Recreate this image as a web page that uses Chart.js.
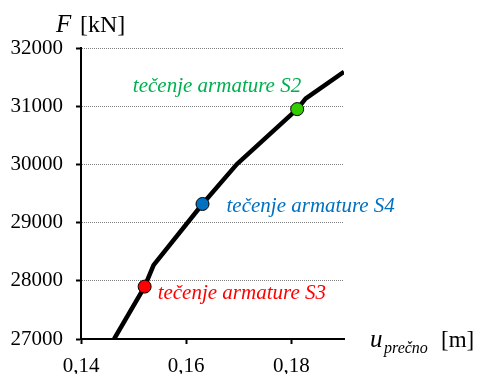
<!DOCTYPE html>
<html>
<head>
<meta charset="utf-8">
<script src="https://cdn.jsdelivr.net/npm/chart.js@4/dist/chart.umd.min.js"></script>
<style>
  html, body { margin: 0; padding: 0; background: #fff; }
  #wrap { position: relative; width: 478px; height: 374px; }
</style>
</head>
<body>
<div id="wrap"><canvas id="grafik"></canvas></div>
<script>
// krivulja F - u_prečno
const uKrivulja = [0.1463, 0.1521, 0.1538, 0.1631, 0.1696, 0.1811, 0.1827, 0.1900];
const fKrivulja = [27000, 27900, 28270, 29320, 30000, 30950, 31130, 31590];

// točke tečenja armature
const tockeNazivi = ['tečenje armature S3', 'tečenje armature S4', 'tečenje armature S2'];
const tockeU = [0.1521, 0.1631, 0.1811];
const tockeF = [27900, 29320, 30950];
const tockeBoje = ['#ff0000', '#0070c0', '#33cc00'];
const tekstBoje = ['#ff0000', '#0070c0', '#00b050'];
// odmik teksta od točke [dx, dy, poravnanje]
const tekstOdmik = [[13, 12, 'left'], [24, 8, 'left'], [4, -17, 'right']];

const xOznake = [0.14, 0.16, 0.18];
const yMin = 27000, yMax = 32000, yKorak = 1000;

const serif = '"Liberation Serif", "Times New Roman", serif';

const naslovi = {
    id: 'naslovi',
    afterDraw(chart) {
        const ctx = chart.ctx;
        const xs = chart.scales.x, ys = chart.scales.y;
        ctx.save();
        ctx.textBaseline = 'alphabetic';
        ctx.textAlign = 'left';
        ctx.fillStyle = '#000';

        // F [kN]
        ctx.font = 'italic 25px ' + serif;
        ctx.fillText('F', 56, 32);
        ctx.font = '24px ' + serif;
        ctx.fillText('[kN]', 80, 32);

        // u_prečno [m]
        ctx.font = 'italic 25px ' + serif;
        ctx.fillText('u', 370, 347);
        ctx.font = 'italic 16px ' + serif;
        ctx.fillText('prečno', 384, 353);
        ctx.font = '23px ' + serif;
        ctx.fillText('[m]', 441, 347);

        // nazivi točk
        ctx.font = 'italic 21px ' + serif;
        tockeNazivi.forEach((t, i) => {
            const px = xs.getPixelForValue(tockeU[i]);
            const py = ys.getPixelForValue(tockeF[i]);
            ctx.fillStyle = tekstBoje[i];
            ctx.textAlign = tekstOdmik[i][2];
            ctx.fillText(t, px + tekstOdmik[i][0], py + tekstOdmik[i][1]);
        });
        ctx.restore();
    }
};

const datasetsTocke = tockeNazivi.map((n, i) => ({
    label: n,
    data: [{ x: tockeU[i], y: tockeF[i] }],
    pointRadius: 6.5,
    pointBackgroundColor: tockeBoje[i],
    pointBorderColor: '#000',
    pointBorderWidth: 1,
    showLine: false,
    order: 1
}));

new Chart(document.getElementById('grafik'), {
    type: 'scatter',
    data: {
        datasets: [
            ...datasetsTocke,
            {
                label: 'F',
                data: uKrivulja.map((u, i) => ({ x: u, y: fKrivulja[i] })),
                showLine: true,
                borderColor: '#000',
                borderWidth: 4.5,
                borderJoinStyle: 'round',
                pointRadius: 0,
                tension: 0,
                order: 2
            }
        ]
    },
    options: {
        responsive: true,
        maintainAspectRatio: false,
        animation: false,
        events: [],
        layout: { padding: { top: 48, right: 134, left: 0, bottom: 0 } },
        plugins: { legend: { display: false }, tooltip: { enabled: false } },
        scales: {
            x: {
                type: 'linear',
                min: 0.14,
                max: 0.19,
                afterBuildTicks: s => { s.ticks = xOznake.map(v => ({ value: v })); },
                afterFit: s => { s.height = 35; },
                grid: {
                    drawOnChartArea: false,
                    tickLength: 5,
                    tickWidth: 2,
                    tickColor: '#000'
                },
                border: { color: '#000', width: 2 },
                ticks: {
                    padding: 10,
                    maxRotation: 0,
                    color: '#000',
                    font: { family: serif, size: 21 },
                    callback: v => v.toFixed(2).replace('.', ',')
                }
            },
            y: {
                min: yMin,
                max: yMax,
                afterFit: s => { s.width = 81; },
                ticks: {
                    stepSize: yKorak,
                    padding: 13,
                    color: '#000',
                    font: { family: serif, size: 21 },
                    callback: v => String(v)
                },
                grid: {
                    color: c => c.tick && c.tick.value === yMin ? 'rgba(0,0,0,0)' : '#808080',
                    lineWidth: 1,
                    tickLength: 5,
                    tickWidth: 2,
                    tickColor: '#000',
                    tickBorderDash: []
                },
                border: { color: '#000', width: 2, dash: [1, 1] }
            }
        }
    },
    plugins: [naslovi]
});
</script>
</body>
</html>
